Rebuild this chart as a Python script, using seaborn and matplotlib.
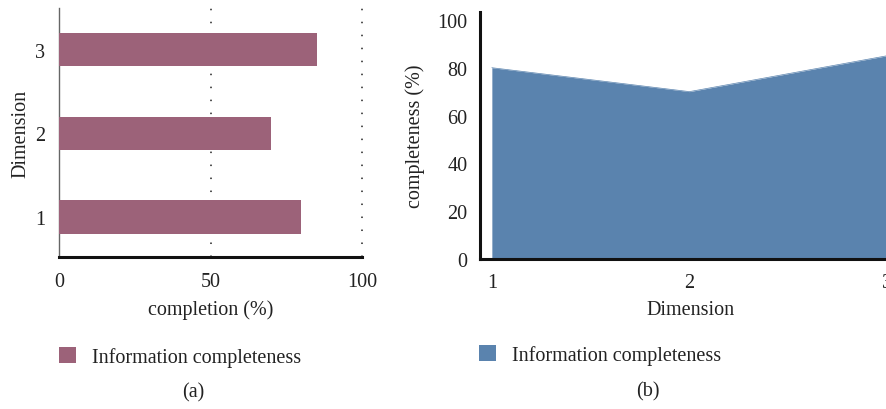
import matplotlib
matplotlib.use("Agg")
import matplotlib.pyplot as plt
from matplotlib.patches import Patch
import seaborn as sns
import pandas as pd

# Data
dimensions = ["1", "2", "3"]
completion = [80, 70, 85]          # panel (a) bar values, %
dimension_num = [1, 2, 3]
completeness = [80, 70, 85]        # panel (b) area values, %
x_ticks_a = [0, 50, 100]
y_ticks_b = [0, 20, 40, 60, 80, 100]
series_name = "Information completeness"

bar_color = "#9c6279"
area_color = "#5a83ae"
FS = 14.5

sns.set_theme(style="white")
plt.rcParams["font.family"] = ["Liberation Serif", "DejaVu Serif"]
plt.rcParams["font.size"] = FS
plt.rcParams["text.color"] = "#222222"
plt.rcParams["axes.labelcolor"] = "#222222"
plt.rcParams["xtick.color"] = "#222222"
plt.rcParams["ytick.color"] = "#222222"

W, H = 887, 410
fig = plt.figure(figsize=(W / 100, H / 100), dpi=100)


def box(x0, y0, x1, y1):
    return [x0 / W, 1 - y1 / H, (x1 - x0) / W, (y1 - y0) / H]


# ---- (a) horizontal bars ----
ax1 = fig.add_axes(box(59, 9, 362, 258))
df_a = pd.DataFrame({"Dimension": dimensions, "completion": completion})
sns.barplot(data=df_a, x="completion", y="Dimension", order=["3", "2", "1"],
            color=bar_color, saturation=1, width=0.4, linewidth=0,
            ax=ax1, zorder=3)
ax1.set_xlim(0, 100)
ax1.set_ylim(2.48, -0.5)
ax1.set_xticks(x_ticks_a)
for v in [50, 100]:
    ax1.axvline(v, color="#222222", lw=1.1, linestyle=(0, (1, 7.5)),
                zorder=1, clip_on=False)
for s in ["top", "right"]:
    ax1.spines[s].set_visible(False)
ax1.spines["left"].set_color("#666666")
ax1.spines["left"].set_linewidth(1.0)
ax1.spines["bottom"].set_color("#111111")
ax1.spines["bottom"].set_linewidth(2.2)
ax1.spines["bottom"].set_zorder(5)
ax1.tick_params(axis="x", length=0, pad=11, labelsize=FS)
ax1.tick_params(axis="y", length=0, pad=10, labelsize=FS)
ax1.set_xlabel("completion (%)", fontsize=FS)
ax1.set_ylabel("Dimension", fontsize=FS)
ax1.xaxis.set_label_coords(0.5, -0.17)
ax1.yaxis.set_label_coords(-0.095, 0.5)

# ---- (b) area ----
ax2 = fig.add_axes(box(480, 13, 887, 260))
df_b = pd.DataFrame({"Dimension": dimension_num, "completeness": completeness})
sns.lineplot(data=df_b, x="Dimension", y="completeness", color=area_color,
             lw=0.5, ax=ax2)
ax2.fill_between(df_b["Dimension"], 0, df_b["completeness"],
                 color=area_color, lw=0)
ax2.set_xlim(0.94, 3.0)
ax2.set_ylim(0, 103.3)
ax2.set_xticks(dimension_num)
ax2.set_yticks(y_ticks_b)
for s in ["top", "right"]:
    ax2.spines[s].set_visible(False)
for s in ["left", "bottom"]:
    ax2.spines[s].set_color("#111111")
    ax2.spines[s].set_linewidth(2.2)
ax2.tick_params(axis="x", length=0, pad=10, labelsize=FS)
ax2.tick_params(axis="y", length=0, pad=9, labelsize=FS)
ax2.set_xlabel("Dimension", fontsize=FS)
ax2.set_ylabel("completeness (%)", fontsize=FS)
ax2.xaxis.set_label_coords(0.516, -0.165)
ax2.yaxis.set_label_coords(-0.135, 0.5)

# ---- legends and captions ----
for color, x0, yc in [(bar_color, 59, 358), (area_color, 479, 356)]:
    fig.legend(handles=[Patch(facecolor=color, edgecolor="none", label=series_name)],
               loc="center left", bbox_to_anchor=(x0 / W, 1 - yc / H),
               frameon=False, borderpad=0, borderaxespad=0,
               handlelength=0.85, handleheight=0.85, handletextpad=0.8,
               fontsize=FS)

fig.text(193 / W, 1 - 393 / H, "(a)", ha="center", va="center", fontsize=FS)
fig.text(648 / W, 1 - 392 / H, "(b)", ha="center", va="center", fontsize=FS)

fig.savefig("out.png", dpi=100)
